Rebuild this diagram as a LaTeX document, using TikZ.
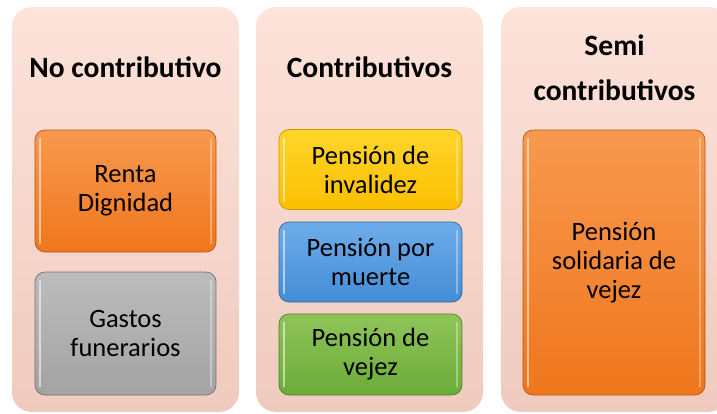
\documentclass[tikz,border=0pt]{standalone}
\usepackage{fontspec}
\setmainfont{Carlito}
\usepackage{xcolor}

\definecolor{rosaA}{HTML}{FDE3DA}
\definecolor{rosaB}{HTML}{F0CABE}
\definecolor{naranjaA}{HTML}{F8994F}
\definecolor{naranjaB}{HTML}{EF761C}
\definecolor{grisA}{HTML}{BCBCBC}
\definecolor{grisB}{HTML}{A3A3A3}
\definecolor{amarilloA}{HTML}{FFD52A}
\definecolor{amarilloB}{HTML}{FCBF00}
\definecolor{azulA}{HTML}{6EADEA}
\definecolor{azulB}{HTML}{448CD6}
\definecolor{verdeA}{HTML}{8FC45A}
\definecolor{verdeB}{HTML}{6BAC37}

\begin{document}
\begin{tikzpicture}[x=1pt,y=-1pt,
  grupo/.style={rounded corners=20pt, top color=rosaA, bottom color=rosaB,
    minimum width=227pt, minimum height=405pt, inner sep=0pt},
  titulo/.style={font=\fontsize{29.5}{45}\selectfont\bfseries, align=center},
  caja/.style={rounded corners=10pt, line width=0.7pt, inner sep=0pt,
    align=center, font=\fontsize{26.5}{29}\selectfont},
  naranja/.style={caja, top color=naranjaA, bottom color=naranjaB, draw=naranjaB!75!black},
  gris/.style={caja, top color=grisA, bottom color=grisB, draw=grisB!70!black},
  amarillo/.style={caja, top color=amarilloA, bottom color=amarilloB, draw=amarilloB!80!black},
  azul/.style={caja, top color=azulA, bottom color=azulB, draw=azulB!75!black},
  verde/.style={caja, top color=verdeA, bottom color=verdeB, draw=verdeB!75!black},
  brillo/.style={white, opacity=0.55, line width=2pt, line cap=round}]
\clip (0,0) rectangle (717,413);

% three groups
\node[grupo] (nocont) at (125.5,209.5) {};
\node[grupo] (contrib) at (369.5,209.5) {};
\node[grupo] (semi) at (614.5,209.5) {};

\node[titulo, anchor=base] (tnocont) at (125.5,77) {No contributivo};
\node[titulo, anchor=base] (tcontrib) at (369.5,77) {Contributivos};
\node[titulo] (tsemi) at (614.5,68) {Semi\\contributivos};

% boxes
\node[naranja, minimum width=181pt, minimum height=122pt] (renta) at (125.5,191) {Renta\\Dignidad};
\node[gris, minimum width=181pt, minimum height=123pt] (gastos) at (125.5,333.5) {Gastos\\funerarios};
\node[amarillo, minimum width=183pt, minimum height=80pt] (invalidez) at (370.5,169.5) {Pensión de\\invalidez};
\node[azul, minimum width=183pt, minimum height=80pt] (muerte) at (370.5,262) {Pensión por\\muerte};
\node[verde, minimum width=183pt, minimum height=81pt] (vejez) at (370.5,354.5) {Pensión de\\vejez};
\node[naranja, minimum width=182pt, minimum height=265pt] (solidaria) at (614,262.5) {Pensión\\solidaria de\\vejez};

% bevel highlights
\foreach \b in {renta,gastos,invalidez,muerte,vejez,solidaria}{
  \draw[brillo] ([xshift=5pt,yshift=-9pt]\b.north west) -- ([xshift=5pt,yshift=9pt]\b.south west);
  \draw[brillo, opacity=0.35] ([xshift=-5pt,yshift=-9pt]\b.north east) -- ([xshift=-5pt,yshift=9pt]\b.south east);
}
\end{tikzpicture}
\end{document}
